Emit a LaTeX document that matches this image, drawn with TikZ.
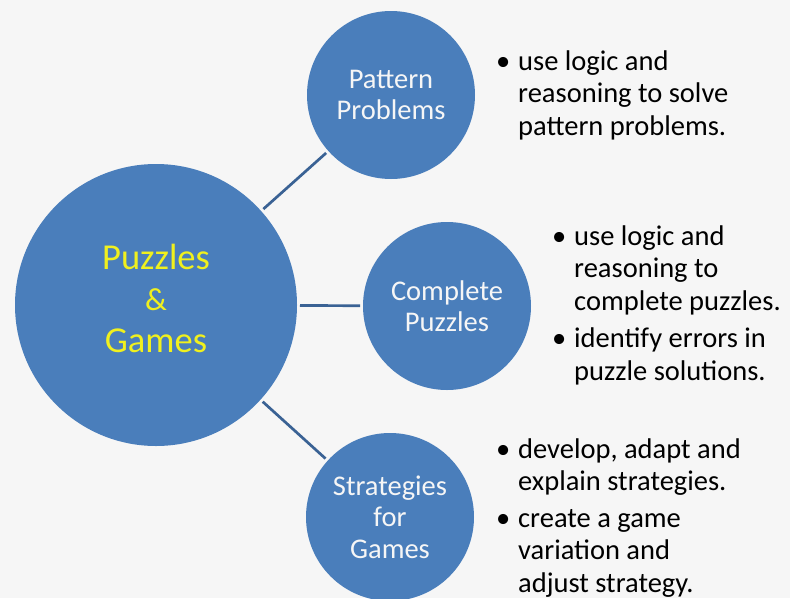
\documentclass[tikz,border=0pt]{standalone}
\usepackage{fontspec}
\setmainfont{Carlito}
\usepackage{xcolor}
\definecolor{gray-50}{RGB}{246,246,246}
\definecolor{blue-500}{RGB}{74,126,187}
\definecolor{blue-800}{RGB}{58,98,148}
\definecolor{yellow-400}{RGB}{240,240,30}
\definecolor{white-100}{RGB}{246,246,246}
\usepackage{tikz}
\usetikzlibrary{positioning}

\newcommand{\bul}{\makebox[22pt][l]{\textbullet}}
\newcommand{\ind}{\hspace*{22pt}}

\begin{document}
\begin{tikzpicture}[x=1pt, y=-1pt,
    hub circle/.style={circle, fill=blue-500, minimum size=282pt, inner sep=0pt, outer sep=3pt, text=yellow-400, align=center, font=\fontsize{36.5}{40}\selectfont},
    topic circle/.style={circle, fill=blue-500, minimum size=168pt, inner sep=0pt, outer sep=3pt, text=white-100, align=center, font=\fontsize{28.5}{31.5}\selectfont},
    bullet text/.style={anchor=base west, align=left, inner sep=0pt, font=\fontsize{28.5}{32.5}\selectfont},
    link/.style={line width=2.7pt, blue-800}
]

% background and page size
\fill[gray-50] (0,0) rectangle (790,598);
\useasboundingbox (0,0) rectangle (790,598);

% Central topic
\node[hub circle] (hub) at (156,305) {Puzzles\\[1pt]{\fontsize{32}{30}\selectfont\&}\\[2pt]Games\rule[-14pt]{0pt}{14pt}};

% Sub topics
\node[topic circle] (pattern) at (391,95) {Pattern\\Problems};
\node[topic circle] (complete) at (447,306) {Complete\\Puzzles};
\node[topic circle] (strategy) at (390,517) {Strategies\\for\\Games};

% Links
\draw[link] (hub) -- (pattern);
\draw[link] (hub) -- (complete);
\draw[link] (hub) -- (strategy);

% Bullet points (anchored at the last line)
\node[bullet text] (patternTxt) at (496,135) {\bul use logic and\\ \ind reasoning to solve\\ \ind pattern problems.};

\node[bullet text] (completeTxt) at (552,380) {\bul use logic and\\ \ind reasoning to\\ \ind complete puzzles.\\[5pt] \bul identify errors in\\ \ind puzzle solutions.};

\node[bullet text] (strategyTxt) at (496,592) {\bul develop, adapt and\\ \ind explain strategies.\\[4pt] \bul create a game\\ \ind variation and\\ \ind adjust strategy.};

\end{tikzpicture}
\end{document}
